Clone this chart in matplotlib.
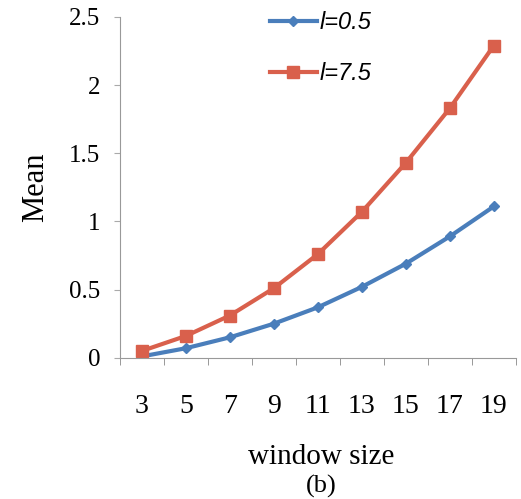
import matplotlib.pyplot as plt
import numpy as np

window = ['3', '5', '7', '9', '11', '13', '15', '17', '19']
mean_l05 = [0.01, 0.07, 0.15, 0.25, 0.37, 0.52, 0.69, 0.89, 1.11]
mean_l75 = [0.05, 0.16, 0.31, 0.51, 0.76, 1.07, 1.43, 1.83, 2.29]

dpi = 100
fig = plt.figure(dpi=dpi, figsize=(521 / dpi, 499 / dpi))
ax = fig.add_axes([0.230, 0.283, 0.760, 0.683])

x = np.arange(len(window))
ax.plot(x, mean_l05, color='#4a7ebb', lw=3, marker='D', ms=5, label='l=0.5')
ax.plot(x, mean_l75, color='#d9604c', lw=3, marker='s', ms=8, label='l=7.5')

ax.set_xlim(-0.5, len(window) - 0.5)
ax.set_ylim(0, 2.5)
ax.set_yticks([0, 0.5, 1, 1.5, 2, 2.5])
ax.set_yticklabels(['0', '0.5', '1', '1.5', '2', '2.5'])
ax.set_xticks(x)
ax.set_xticklabels(window)
ax.set_xticks(np.arange(-0.5, len(window)), minor=True)
ax.tick_params(axis='x', which='major', length=0, pad=26)
ax.tick_params(axis='x', which='minor', length=5, color='#888888', direction='out')
ax.tick_params(axis='y', length=4, color='#aaaaaa', pad=10)

for s in ['top', 'right']:
    ax.spines[s].set_visible(False)
for s in ['left', 'bottom']:
    ax.spines[s].set_color('#999999')

serif = 'Liberation Serif'
for lab in ax.get_xticklabels():
    lab.set_fontfamily(serif)
    lab.set_fontsize(20)
for lab in ax.get_yticklabels():
    lab.set_fontfamily(serif)
    lab.set_fontsize(18)

ax.set_ylabel('Mean', fontfamily=serif, fontsize=22, labelpad=14)
fig.text(0.617, 0.07, 'window size', ha='center', fontfamily=serif, fontsize=21)
fig.text(0.617, 0.012, '(b)', ha='center', fontfamily=serif, fontsize=19)

leg = ax.legend(loc='upper left', bbox_to_anchor=(0.325, 1.08), frameon=False,
                prop={'family': 'Liberation Sans', 'style': 'italic', 'size': 17},
                handlelength=2.0, handletextpad=0.1, labelspacing=1.2)

fig.savefig('out.png')
